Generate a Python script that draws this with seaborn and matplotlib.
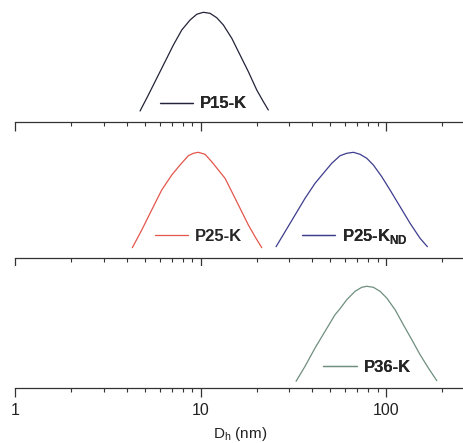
import numpy as np
import pandas as pd
import matplotlib
matplotlib.use("Agg")
import matplotlib.pyplot as plt
from matplotlib.ticker import LogLocator, FixedFormatter, NullFormatter, FixedLocator
import seaborn as sns

# ---- data (hydrodynamic diameter in nm, intensity in arbitrary units) ----
p15_x = [4.70, 5.21, 5.78, 6.41, 7.11, 7.89, 8.75, 9.50, 10.31, 11.21, 12.18,
         13.23, 14.69, 16.28, 18.05, 20.03, 21.75, 23.13]
p15_y = [11.3, 27.3, 44.0, 60.6, 77.3, 92.3, 102.3, 108.0, 110.0, 109.0, 104.6,
         97.3, 84.0, 67.3, 50.6, 32.3, 20.6, 12.3]

p25_x = [4.27, 4.80, 5.43, 6.15, 6.97, 7.72, 8.56, 9.11, 9.69, 10.54, 11.45,
         12.43, 13.51, 14.69, 16.28, 18.05, 19.61, 21.32]
p25_y = [9.8, 27.5, 47.5, 67.5, 82.5, 92.5, 101.8, 104.2, 105.2, 103.2, 95.8,
         87.5, 79.2, 65.8, 49.2, 32.5, 20.8, 9.8]

p25nd_x = [25.46, 28.48, 32.24, 36.50, 41.33, 45.82, 50.86, 56.38, 61.29, 66.53,
           72.31, 78.59, 85.29, 94.67, 104.95, 118.9, 134.6, 152.4, 166.9]
p25nd_y = [10.8, 25.8, 42.5, 59.2, 74.2, 84.2, 94.2, 101.8, 104.2, 105.2,
           103.2, 99.2, 92.5, 80.8, 67.5, 50.8, 34.2, 19.2, 10.8]

p36_x = [32.64, 36.50, 41.33, 46.80, 52.99, 56.38, 61.29, 67.96, 73.84, 78.59,
         85.29, 92.71, 100.7, 111.7, 123.8, 137.5, 152.4, 168.9, 187.6]
p36_y = [7.0, 22.0, 40.3, 57.0, 73.6, 79.6, 88.6, 97.0, 101.0, 102.0,
         101.0, 97.0, 90.3, 78.6, 63.6, 48.6, 33.6, 20.3, 7.6]

labels = ["P15-K", "P25-K", "P25-K$_{\\mathregular{ND}}$", "P36-K"]
major_ticks = [1, 10, 100]
major_labels = ["1", "10", "100"]
x_label = "D$_{\\mathregular{h}}$ (nm)"

colors = {"P15-K": "#23233a", "P25-K": "#e5564c", "P25-KND": "#3d3d8e", "P36-K": "#6f8f7e"}

sns.set_theme(style="ticks")
plt.rcParams["font.family"] = ["Liberation Sans", "DejaVu Sans"]
plt.rcParams["mathtext.fontset"] = "custom"
plt.rcParams["mathtext.rm"] = "Liberation Sans"
plt.rcParams["mathtext.bf"] = "Liberation Sans:bold"

W, H = 464, 443
fig = plt.figure(figsize=(W / 100, H / 100), dpi=100)
fig.patch.set_facecolor("white")

left = 15.5 / W
width = 1 - left
ph = 122 / H
baselines = [122.3, 257.5, 388.3]
axes = [fig.add_axes([left, 1 - b / H, width, ph]) for b in baselines]

xmin, xmax = 1, 263

def style_axis(ax, show_labels):
    ax.set_xscale("log")
    ax.set_xlim(xmin, xmax)
    ax.set_ylim(0, 122)
    ax.set_facecolor("white")
    for s in ["left", "top", "right"]:
        ax.spines[s].set_visible(False)
    ax.spines["bottom"].set_color("#333333")
    ax.spines["bottom"].set_linewidth(0.9)
    ax.set_yticks([])
    ax.set_ylabel("")
    ax.xaxis.set_major_locator(FixedLocator(major_ticks))
    ax.xaxis.set_minor_locator(LogLocator(base=10, subs=np.arange(2, 10), numticks=20))
    ax.xaxis.set_minor_formatter(NullFormatter())
    if show_labels:
        ax.xaxis.set_major_formatter(FixedFormatter(major_labels))
    else:
        ax.xaxis.set_major_formatter(NullFormatter())
    ax.tick_params(axis="x", which="major", direction="out", length=6.5, width=0.9,
                   color="#333333", labelsize=11.5, pad=4, labelcolor="#222222")
    ax.tick_params(axis="x", which="minor", direction="out", length=3, width=0.8,
                   color="#333333")
    ax.set_xlabel("")

def add_legend(ax, line, label, x, y):
    leg = ax.legend([line], [label], loc="center left", bbox_to_anchor=(x, y),
                    frameon=False, borderpad=0, borderaxespad=0, handlelength=2.0,
                    handletextpad=0.42, prop={"weight": "bold", "size": 12})
    ax.add_artist(leg)
    return leg

lw = 0.9

# Top panel
df = pd.DataFrame({"x": p15_x, "y": p15_y})
sns.lineplot(data=df, x="x", y="y", ax=axes[0], color=colors["P15-K"], lw=lw, sort=False)
style_axis(axes[0], False)
add_legend(axes[0], axes[0].lines[0], labels[0], 0.322, 0.15)

# Middle panel
df = pd.DataFrame({"x": p25_x, "y": p25_y})
sns.lineplot(data=df, x="x", y="y", ax=axes[1], color=colors["P25-K"], lw=lw, sort=False)
df = pd.DataFrame({"x": p25nd_x, "y": p25nd_y})
sns.lineplot(data=df, x="x", y="y", ax=axes[1], color=colors["P25-KND"], lw=lw, sort=False)
style_axis(axes[1], False)
add_legend(axes[1], axes[1].lines[0], labels[1], 0.311, 0.17)
add_legend(axes[1], axes[1].lines[1], labels[2], 0.638, 0.17)

# Bottom panel
df = pd.DataFrame({"x": p36_x, "y": p36_y})
sns.lineplot(data=df, x="x", y="y", ax=axes[2], color=colors["P36-K"], lw=lw, sort=False)
style_axis(axes[2], True)
add_legend(axes[2], axes[2].lines[0], labels[3], 0.686, 0.172)
axes[2].set_xlabel(x_label, fontsize=11, labelpad=5, color="#222222")

fig.savefig("out.png", dpi=100, facecolor="white")
